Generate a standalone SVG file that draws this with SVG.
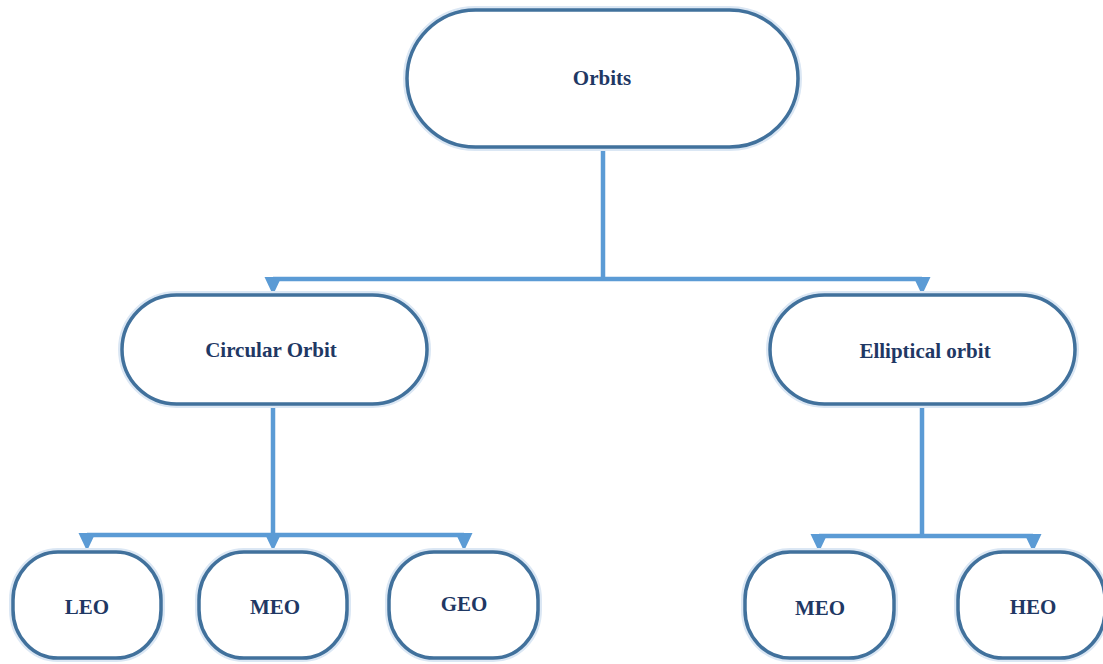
<svg xmlns="http://www.w3.org/2000/svg" width="1103" height="664" viewBox="0 0 1103 664">
  <style>
    .box { fill: #ffffff; stroke: #41719c; stroke-width: 3.5; }
    .halo { fill: none; stroke: #dbe7f4; stroke-width: 8; }
    .label { font-family: "Liberation Serif", "Times New Roman", serif; font-weight: bold; font-size: 21px; fill: #1f3864; text-anchor: middle; }
    .wire { fill: none; stroke: #5b9bd5; stroke-width: 4.5; }
    .head { fill: #5b9bd5; }
  </style>
  <defs>
    <!-- downward arrowhead, tip at origin -->
    <path id="arrowhead" class="head" d="M -8.5 -18 L 8.5 -18 L 0 0 Z"/>
  </defs>
  <rect width="1103" height="664" fill="#ffffff"/>

  <g id="connectors">
    <!-- Orbits to level 2 -->
    <path class="wire" d="M 603 147 V 279 M 273 279 H 922"/>
    <use href="#arrowhead" x="273" y="295"/>
    <use href="#arrowhead" x="922" y="295"/>
    <!-- Circular Orbit to LEO / MEO / GEO -->
    <path class="wire" d="M 273 404 V 535 M 87 535 H 464"/>
    <use href="#arrowhead" x="87" y="551"/>
    <use href="#arrowhead" x="273" y="551"/>
    <use href="#arrowhead" x="464" y="551"/>
    <!-- Elliptical orbit to MEO / HEO -->
    <path class="wire" d="M 922 404 V 536 M 819 536 H 1033"/>
    <use href="#arrowhead" x="819" y="552"/>
    <use href="#arrowhead" x="1033" y="552"/>
  </g>

  <g id="orbits">
    <rect class="halo" x="407" y="10" width="391" height="137" rx="68.5"/>
    <rect class="box" x="407" y="10" width="391" height="137" rx="68.5"/>
    <text class="label" x="602" y="85">Orbits</text>
  </g>

  <g id="circular-orbit">
    <rect class="halo" x="122" y="295" width="305" height="109" rx="54.5"/>
    <rect class="box" x="122" y="295" width="305" height="109" rx="54.5"/>
    <text class="label" x="271" y="357">Circular Orbit</text>
  </g>

  <g id="elliptical-orbit">
    <rect class="halo" x="770" y="295" width="305" height="109" rx="54.5"/>
    <rect class="box" x="770" y="295" width="305" height="109" rx="54.5"/>
    <text class="label" x="925" y="358">Elliptical orbit</text>
  </g>

  <g id="leo">
    <rect class="halo" x="13" y="552" width="148" height="106" rx="45" ry="48"/>
    <rect class="box" x="13" y="552" width="148" height="106" rx="45" ry="48"/>
    <text class="label" x="87" y="614">LEO</text>
  </g>

  <g id="meo-circular">
    <rect class="halo" x="199" y="552" width="148" height="106" rx="45" ry="48"/>
    <rect class="box" x="199" y="552" width="148" height="106" rx="45" ry="48"/>
    <text class="label" x="275" y="614">MEO</text>
  </g>

  <g id="geo">
    <rect class="halo" x="389" y="552" width="149" height="106" rx="45" ry="48"/>
    <rect class="box" x="389" y="552" width="149" height="106" rx="45" ry="48"/>
    <text class="label" x="464" y="611">GEO</text>
  </g>

  <g id="meo-elliptical">
    <rect class="halo" x="745" y="552" width="149" height="106" rx="45" ry="48"/>
    <rect class="box" x="745" y="552" width="149" height="106" rx="45" ry="48"/>
    <text class="label" x="820" y="615">MEO</text>
  </g>

  <g id="heo">
    <rect class="halo" x="958" y="552" width="147" height="106" rx="45" ry="48"/>
    <rect class="box" x="958" y="552" width="147" height="106" rx="45" ry="48"/>
    <text class="label" x="1033" y="614">HEO</text>
  </g>
</svg>
